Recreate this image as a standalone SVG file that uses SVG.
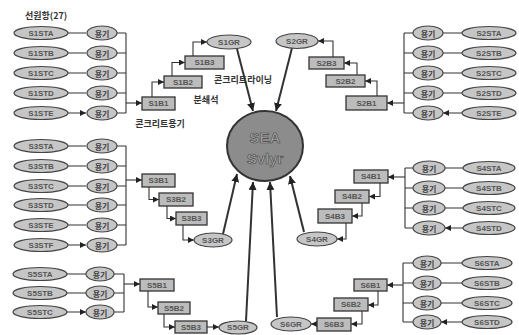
<svg xmlns="http://www.w3.org/2000/svg" width="519" height="335" viewBox="0 0 519 335">
<defs>
<marker id="a" viewBox="0 0 6 6" markerWidth="6" markerHeight="6" refX="6" refY="3" orient="auto" markerUnits="userSpaceOnUse"><path d="M0,0 L6,3 L0,6 z" fill="#222"/></marker>
<marker id="b" viewBox="0 0 8 8" markerWidth="8" markerHeight="8" refX="8" refY="4" orient="auto" markerUnits="userSpaceOnUse"><path d="M0,0 L8,4 L0,8 z" fill="#222"/></marker>
<style>
.e{fill:#c6c6c6;stroke:#444;stroke-width:1.2}
.r{fill:#bcbcbc;stroke:#333;stroke-width:1.3}
.t{font-family:"Liberation Sans","Noto Sans CJK KR",sans-serif;font-size:8px;font-weight:bold;text-anchor:middle;dominant-baseline:central;fill:#555}
.k{font-family:"Noto Sans CJK KR",sans-serif;font-size:8px;font-weight:bold;text-anchor:middle;dominant-baseline:central;fill:#444}
.l{font-family:"Noto Sans CJK KR",sans-serif;font-size:9px;font-weight:bold;fill:#333}
.c{fill:none;stroke:#333;stroke-width:1.1}
.w{fill:none;stroke:#333;stroke-width:2}
</style>
</defs>
<text class="l" x="25" y="19" font-size="8.5">선원항(27)</text>
<text class="l" x="243" y="83" text-anchor="middle">콘크리트라이닝</text>
<text class="l" x="206" y="103" text-anchor="middle">분쇄석</text>
<text class="l" x="160" y="127" text-anchor="middle">콘크리트용기</text>

<g id="connectors">
<path class="c" marker-end="url(#a)" d="M68 33H86M68 53H86M68 73H86M68 93H86M68 113H86"/>
<path class="c" d="M117 33H126M117 53H126M117 73H126M117 93H126M117 113H126M126 33V113"/>
<path class="c" marker-end="url(#a)" d="M126 103H142"/>
<path class="c" marker-end="url(#a)" d="M152 97V82H164"/>
<path class="c" marker-end="url(#a)" d="M172 76V62.5H185"/>
<path class="c" marker-end="url(#a)" d="M193 56V42H207"/>
<path class="w" marker-end="url(#b)" d="M237 49L253 111"/>
<path class="c" marker-end="url(#a)" d="M462 33H443M462 53H443M462 73H443M462 93H443M462 113H443"/>
<path class="c" d="M413 33H404M413 53H404M413 73H404M413 93H404M413 113H404M404 33V113"/>
<path class="c" marker-end="url(#a)" d="M404 103H387"/>
<path class="c" marker-end="url(#a)" d="M377 96V81H365"/>
<path class="c" marker-end="url(#a)" d="M357 75V63H344"/>
<path class="c" marker-end="url(#a)" d="M333 57V41H318"/>
<path class="w" marker-end="url(#b)" d="M292 48L276 111"/>
<path class="c" marker-end="url(#a)" d="M68 146H86M68 166H86M68 186H86M68 205H86M68 225H86M68 245H86"/>
<path class="c" d="M117 146H126M117 166H126M117 186H126M117 205H126M117 225H126M117 245H126M126 146V245"/>
<path class="c" marker-end="url(#a)" d="M126 180H142"/>
<path class="c" marker-end="url(#a)" d="M149 187V199.5H159"/>
<path class="c" marker-end="url(#a)" d="M167 206V218.5H176"/>
<path class="c" marker-end="url(#a)" d="M183 225V240H194"/>
<path class="w" marker-end="url(#b)" d="M223 234L237 174"/>
<path class="c" marker-end="url(#a)" d="M463 168H445M463 188H445M463 208H445M463 228H445"/>
<path class="c" d="M413 168H405M413 188H405M413 208H405M413 228H405M405 168V228"/>
<path class="c" marker-end="url(#a)" d="M405 177H388"/>
<path class="c" marker-end="url(#a)" d="M380 183V196.5H369"/>
<path class="c" marker-end="url(#a)" d="M362 203V216H352"/>
<path class="c" marker-end="url(#a)" d="M346 223V239H337"/>
<path class="w" marker-end="url(#b)" d="M304 232L290 176"/>
<path class="c" marker-end="url(#a)" d="M67 274H86M67 293H86M67 312H86"/>
<path class="c" d="M114 274H124M114 293H124M114 312H124M124 274V312"/>
<path class="c" marker-end="url(#a)" d="M124 284H140"/>
<path class="c" marker-end="url(#a)" d="M148 291V307H158"/>
<path class="c" marker-end="url(#a)" d="M164 314V327H175"/>
<path class="c" marker-end="url(#a)" d="M207 327H219"/>
<path class="w" marker-end="url(#b)" d="M246 321L253 182"/>
<path class="c" marker-end="url(#a)" d="M462 263H441M462 283H441M462 303H441M462 322H441"/>
<path class="c" d="M413 263H403M413 283H403M413 303H403M413 322H403M403 263V322"/>
<path class="c" marker-end="url(#a)" d="M403 285H387"/>
<path class="c" marker-end="url(#a)" d="M378 291V305H368"/>
<path class="c" marker-end="url(#a)" d="M362 311V324H351"/>
<path class="c" marker-end="url(#a)" d="M317 324H311"/>
<path class="w" marker-end="url(#b)" d="M277 317L270 182"/>
</g>

<g id="SEA">
<ellipse cx="265" cy="146" rx="38" ry="35" fill="#8c8c8c" stroke="#333" stroke-width="2"/>
<text x="265" y="137" font-family="Liberation Sans,sans-serif" font-size="15" font-weight="bold" text-anchor="middle" dominant-baseline="central" fill="#a8a8a8" stroke="#444" stroke-width="0.6">SEA</text>
<text x="265" y="158" font-family="Liberation Sans,sans-serif" font-size="15" font-weight="bold" text-anchor="middle" dominant-baseline="central" fill="#a8a8a8" stroke="#444" stroke-width="0.6">Svlyr</text>
</g>

<g id="S1STA"><ellipse class="e" cx="41" cy="33" rx="27" ry="6.5"/><text class="t" x="41" y="33">S1STA</text></g>
<g id="S1STB"><ellipse class="e" cx="41" cy="53" rx="27" ry="6.5"/><text class="t" x="41" y="53">S1STB</text></g>
<g id="S1STC"><ellipse class="e" cx="41" cy="73" rx="27" ry="6.5"/><text class="t" x="41" y="73">S1STC</text></g>
<g id="S1STD"><ellipse class="e" cx="41" cy="93" rx="27" ry="6.5"/><text class="t" x="41" y="93">S1STD</text></g>
<g id="S1STE"><ellipse class="e" cx="41" cy="113" rx="27" ry="6.5"/><text class="t" x="41" y="113">S1STE</text></g>
<g id="S1C1"><ellipse class="e" cx="102" cy="33" rx="15" ry="7"/><text class="k" x="102" y="33">용기</text></g>
<g id="S1C2"><ellipse class="e" cx="102" cy="53" rx="15" ry="7"/><text class="k" x="102" y="53">용기</text></g>
<g id="S1C3"><ellipse class="e" cx="102" cy="73" rx="15" ry="7"/><text class="k" x="102" y="73">용기</text></g>
<g id="S1C4"><ellipse class="e" cx="102" cy="93" rx="15" ry="7"/><text class="k" x="102" y="93">용기</text></g>
<g id="S1C5"><ellipse class="e" cx="102" cy="113" rx="15" ry="7"/><text class="k" x="102" y="113">용기</text></g>
<g id="S1B1"><rect class="r" x="142" y="97" width="33" height="13"/><text class="t" x="158.5" y="103.5">S1B1</text></g>
<g id="S1B2"><rect class="r" x="164" y="76" width="38" height="12"/><text class="t" x="183" y="82">S1B2</text></g>
<g id="S1B3"><rect class="r" x="185" y="56" width="39" height="13"/><text class="t" x="204.5" y="62.5">S1B3</text></g>
<g id="S1GR"><ellipse class="e" cx="229" cy="42" rx="22" ry="7"/><text class="t" x="229" y="42">S1GR</text></g>

<g id="S2GR"><ellipse class="e" cx="297" cy="41" rx="21" ry="7.5"/><text class="t" x="297" y="41">S2GR</text></g>
<g id="S2B3"><rect class="r" x="309" y="57" width="35" height="12"/><text class="t" x="326.5" y="63">S2B3</text></g>
<g id="S2B2"><rect class="r" x="326" y="75" width="39" height="12"/><text class="t" x="345.5" y="81">S2B2</text></g>
<g id="S2B1"><rect class="r" x="346" y="96" width="41" height="14"/><text class="t" x="366.5" y="103">S2B1</text></g>
<g id="S2C1"><ellipse class="e" cx="428" cy="33" rx="15" ry="7"/><text class="k" x="428" y="33">용기</text></g>
<g id="S2C2"><ellipse class="e" cx="428" cy="53" rx="15" ry="7"/><text class="k" x="428" y="53">용기</text></g>
<g id="S2C3"><ellipse class="e" cx="428" cy="73" rx="15" ry="7"/><text class="k" x="428" y="73">용기</text></g>
<g id="S2C4"><ellipse class="e" cx="428" cy="93" rx="15" ry="7"/><text class="k" x="428" y="93">용기</text></g>
<g id="S2C5"><ellipse class="e" cx="428" cy="113" rx="15" ry="7"/><text class="k" x="428" y="113">용기</text></g>
<g id="S2STA"><ellipse class="e" cx="489" cy="33" rx="27" ry="6.5"/><text class="t" x="489" y="33">S2STA</text></g>
<g id="S2STB"><ellipse class="e" cx="489" cy="53" rx="27" ry="6.5"/><text class="t" x="489" y="53">S2STB</text></g>
<g id="S2STC"><ellipse class="e" cx="489" cy="73" rx="27" ry="6.5"/><text class="t" x="489" y="73">S2STC</text></g>
<g id="S2STD"><ellipse class="e" cx="489" cy="93" rx="27" ry="6.5"/><text class="t" x="489" y="93">S2STD</text></g>
<g id="S2STE"><ellipse class="e" cx="489" cy="113" rx="27" ry="6.5"/><text class="t" x="489" y="113">S2STE</text></g>

<g id="S3STA"><ellipse class="e" cx="41" cy="146" rx="27" ry="6.5"/><text class="t" x="41" y="146">S3STA</text></g>
<g id="S3STB"><ellipse class="e" cx="41" cy="166" rx="27" ry="6.5"/><text class="t" x="41" y="166">S3STB</text></g>
<g id="S3STC"><ellipse class="e" cx="41" cy="186" rx="27" ry="6.5"/><text class="t" x="41" y="186">S3STC</text></g>
<g id="S3STD"><ellipse class="e" cx="41" cy="205" rx="27" ry="6.5"/><text class="t" x="41" y="205">S3STD</text></g>
<g id="S3STE"><ellipse class="e" cx="41" cy="225" rx="27" ry="6.5"/><text class="t" x="41" y="225">S3STE</text></g>
<g id="S3STF"><ellipse class="e" cx="41" cy="245" rx="27" ry="6.5"/><text class="t" x="41" y="245">S3STF</text></g>
<g id="S3C1"><ellipse class="e" cx="102" cy="146" rx="15" ry="7"/><text class="k" x="102" y="146">용기</text></g>
<g id="S3C2"><ellipse class="e" cx="102" cy="166" rx="15" ry="7"/><text class="k" x="102" y="166">용기</text></g>
<g id="S3C3"><ellipse class="e" cx="102" cy="186" rx="15" ry="7"/><text class="k" x="102" y="186">용기</text></g>
<g id="S3C4"><ellipse class="e" cx="102" cy="205" rx="15" ry="7"/><text class="k" x="102" y="205">용기</text></g>
<g id="S3C5"><ellipse class="e" cx="102" cy="225" rx="15" ry="7"/><text class="k" x="102" y="225">용기</text></g>
<g id="S3C6"><ellipse class="e" cx="102" cy="245" rx="15" ry="7"/><text class="k" x="102" y="245">용기</text></g>
<g id="S3B1"><rect class="r" x="142" y="174" width="33" height="13"/><text class="t" x="158.5" y="180.5">S3B1</text></g>
<g id="S3B2"><rect class="r" x="159" y="193" width="34" height="13"/><text class="t" x="176" y="199.5">S3B2</text></g>
<g id="S3B3"><rect class="r" x="176" y="212" width="31" height="13"/><text class="t" x="191.5" y="218.5">S3B3</text></g>
<g id="S3GR"><ellipse class="e" cx="213" cy="240" rx="19" ry="7"/><text class="t" x="213" y="240">S3GR</text></g>

<g id="S4B1"><rect class="r" x="354" y="170" width="34" height="13"/><text class="t" x="371" y="176.5">S4B1</text></g>
<g id="S4B2"><rect class="r" x="335" y="190" width="34" height="13"/><text class="t" x="352" y="196.5">S4B2</text></g>
<g id="S4B3"><rect class="r" x="318" y="209" width="34" height="14"/><text class="t" x="335" y="216">S4B3</text></g>
<g id="S4GR"><ellipse class="e" cx="317" cy="239" rx="20" ry="7"/><text class="t" x="317" y="239">S4GR</text></g>
<g id="S4C1"><ellipse class="e" cx="429" cy="168" rx="16" ry="7"/><text class="k" x="429" y="168">용기</text></g>
<g id="S4C2"><ellipse class="e" cx="429" cy="188" rx="16" ry="7"/><text class="k" x="429" y="188">용기</text></g>
<g id="S4C3"><ellipse class="e" cx="429" cy="208" rx="16" ry="7"/><text class="k" x="429" y="208">용기</text></g>
<g id="S4C4"><ellipse class="e" cx="429" cy="228" rx="16" ry="7"/><text class="k" x="429" y="228">용기</text></g>
<g id="S4STA"><ellipse class="e" cx="489" cy="168" rx="26" ry="6.5"/><text class="t" x="489" y="168">S4STA</text></g>
<g id="S4STB"><ellipse class="e" cx="489" cy="188" rx="26" ry="6.5"/><text class="t" x="489" y="188">S4STB</text></g>
<g id="S4STC"><ellipse class="e" cx="489" cy="208" rx="26" ry="6.5"/><text class="t" x="489" y="208">S4STC</text></g>
<g id="S4STD"><ellipse class="e" cx="489" cy="228" rx="26" ry="6.5"/><text class="t" x="489" y="228">S4STD</text></g>

<g id="S5STA"><ellipse class="e" cx="40" cy="274" rx="27" ry="6.5"/><text class="t" x="40" y="274">S5STA</text></g>
<g id="S5STB"><ellipse class="e" cx="40" cy="293" rx="27" ry="6.5"/><text class="t" x="40" y="293">S5STB</text></g>
<g id="S5STC"><ellipse class="e" cx="40" cy="312" rx="27" ry="6.5"/><text class="t" x="40" y="312">S5STC</text></g>
<g id="S5C1"><ellipse class="e" cx="100" cy="274" rx="14" ry="7"/><text class="k" x="100" y="274">용기</text></g>
<g id="S5C2"><ellipse class="e" cx="100" cy="293" rx="14" ry="7"/><text class="k" x="100" y="293">용기</text></g>
<g id="S5C3"><ellipse class="e" cx="100" cy="312" rx="14" ry="7"/><text class="k" x="100" y="312">용기</text></g>
<g id="S5B1"><rect class="r" x="140" y="279" width="34" height="12"/><text class="t" x="157" y="285">S5B1</text></g>
<g id="S5B2"><rect class="r" x="158" y="302" width="32" height="12"/><text class="t" x="174" y="308">S5B2</text></g>
<g id="S5B3"><rect class="r" x="175" y="321" width="32" height="12"/><text class="t" x="191" y="327">S5B3</text></g>
<g id="S5GR"><ellipse class="e" cx="238" cy="327.5" rx="19" ry="6.5"/><text class="t" x="238" y="327.5">S5GR</text></g>

<g id="S6GR"><ellipse class="e" cx="291" cy="324" rx="20" ry="7"/><text class="t" x="291" y="324">S6GR</text></g>
<g id="S6B3"><rect class="r" x="317" y="318" width="34" height="13"/><text class="t" x="334" y="324.5">S6B3</text></g>
<g id="S6B2"><rect class="r" x="334" y="298" width="34" height="13"/><text class="t" x="351" y="304.5">S6B2</text></g>
<g id="S6B1"><rect class="r" x="354" y="279" width="33" height="12"/><text class="t" x="370.5" y="285">S6B1</text></g>
<g id="S6C1"><ellipse class="e" cx="427" cy="263" rx="14" ry="7"/><text class="k" x="427" y="263">용기</text></g>
<g id="S6C2"><ellipse class="e" cx="427" cy="283" rx="14" ry="7"/><text class="k" x="427" y="283">용기</text></g>
<g id="S6C3"><ellipse class="e" cx="427" cy="303" rx="14" ry="7"/><text class="k" x="427" y="303">용기</text></g>
<g id="S6C4"><ellipse class="e" cx="427" cy="322" rx="14" ry="7"/><text class="k" x="427" y="322">용기</text></g>
<g id="S6STA"><ellipse class="e" cx="487" cy="263" rx="25" ry="6.5"/><text class="t" x="487" y="263">S6STA</text></g>
<g id="S6STB"><ellipse class="e" cx="487" cy="283" rx="25" ry="6.5"/><text class="t" x="487" y="283">S6STB</text></g>
<g id="S6STC"><ellipse class="e" cx="487" cy="303" rx="25" ry="6.5"/><text class="t" x="487" y="303">S6STC</text></g>
<g id="S6STD"><ellipse class="e" cx="487" cy="322" rx="25" ry="6.5"/><text class="t" x="487" y="322">S6STD</text></g>
</svg>
